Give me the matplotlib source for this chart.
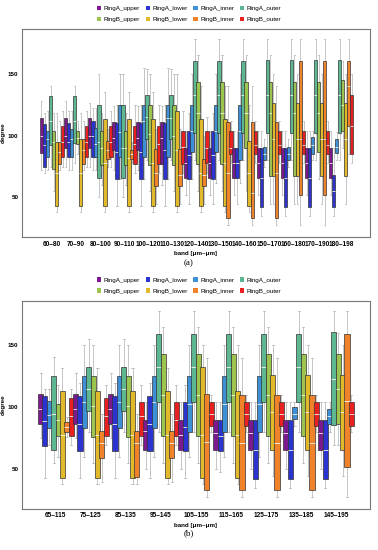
import numpy as np
import matplotlib
matplotlib.use("Agg")
import matplotlib.pyplot as plt
from matplotlib.patches import Patch

SERIES = ["RingA_upper", "RingA_lower", "RingA_inner", "RingA_outer",
          "RingB_upper", "RingB_lower", "RingB_inner", "RingB_outer"]
COLORS = ["#7a1a8e", "#2b34d0", "#3d8fd6", "#5db891",
          "#9ec450", "#e2b92a", "#f0822a", "#e82020"]

BANDS_A = ["60–80", "70–90", "80–100", "90–110", "100–120", "110–130",
           "120–140", "130–150", "140–160", "150–170", "160–180",
           "170–190", "180–198"]
BANDS_B = ["65–115", "75–125", "85–135", "95–145", "105–155", "115–165",
           "125–175", "135–185", "145–195"]

# (whisker low, q1, median, q3, whisker high) for each band
A_RINGA_UPPER = [(72, 86, 100, 114, 128), (75, 90, 100, 114, 128), (75, 90, 100, 114, 126),
                 (72, 88, 98, 111, 124), (72, 88, 98, 111, 124), (60, 77, 98, 111, 124),
                 (52, 66, 78, 90, 104), (52, 66, 78, 90, 104), (52, 66, 78, 90, 104),
                 (52, 66, 78, 90, 104), (52, 66, 78, 90, 104), (52, 66, 78, 90, 104),
                 (52, 66, 78, 90, 104)]
A_RINGA_LOWER = [(70, 75, 92, 109, 118), (72, 83, 95, 110, 120), (72, 83, 100, 112, 122),
                 (43, 65, 87, 110, 125), (43, 65, 87, 110, 125), (43, 65, 88, 110, 125),
                 (45, 65, 84, 104, 118), (45, 65, 84, 104, 118), (45, 66, 78, 90, 104),
                 (35, 42, 66, 90, 104), (35, 42, 66, 90, 104), (35, 42, 66, 90, 104),
                 (35, 42, 55, 68, 90)]
A_RINGA_INNER = [(72, 83, 97, 104, 120), (72, 83, 97, 105, 120), (72, 83, 93, 106, 122),
                 (65, 83, 103, 125, 150), (65, 83, 112, 125, 155), (65, 83, 114, 125, 155),
                 (65, 87, 104, 125, 150), (62, 87, 104, 125, 150), (62, 80, 104, 125, 150),
                 (75, 80, 85, 91, 97), (75, 80, 85, 91, 97), (80, 85, 92, 99, 104),
                 (80, 86, 91, 97, 103)]
A_RINGA_OUTER = [(75, 92, 112, 132, 140), (78, 94, 112, 132, 140), (50, 66, 95, 125, 150),
                 (50, 66, 90, 125, 150), (80, 97, 115, 133, 154), (80, 97, 114, 133, 154),
                 (80, 102, 133, 160, 178), (80, 102, 133, 160, 178), (80, 102, 133, 160, 178),
                 (80, 102, 133, 161, 178), (80, 102, 133, 161, 178), (80, 102, 133, 161, 178),
                 (80, 102, 133, 161, 178)]
A_RINGB_UPPER = [(55, 73, 95, 104, 118), (85, 93, 98, 104, 112), (60, 76, 90, 104, 118),
                 (60, 76, 90, 104, 118), (55, 76, 101, 125, 150), (55, 76, 100, 125, 150),
                 (55, 77, 118, 143, 165), (55, 77, 118, 143, 165), (55, 90, 118, 143, 165),
                 (45, 67, 118, 143, 165), (45, 67, 118, 143, 165), (65, 87, 118, 143, 165),
                 (90, 104, 125, 145, 160)]
A_RINGB_LOWER = [(38, 43, 70, 95, 118), (38, 43, 70, 97, 118), (38, 43, 78, 113, 135),
                 (38, 43, 82, 113, 135), (38, 43, 78, 113, 135), (38, 43, 88, 120, 150),
                 (38, 43, 70, 113, 140), (38, 43, 78, 113, 140), (38, 43, 70, 96, 125),
                 (45, 67, 97, 126, 150), (45, 67, 97, 126, 150), (45, 67, 97, 126, 150),
                 (45, 67, 97, 126, 150)]
A_RINGB_INNER = [(72, 77, 87, 95, 112), (72, 77, 88, 97, 112), (75, 81, 88, 96, 105),
                 (78, 81, 85, 88, 95), (45, 59, 70, 89, 105), (45, 59, 68, 89, 105),
                 (45, 59, 68, 81, 100), (28, 33, 70, 111, 140), (28, 33, 54, 111, 140),
                 (28, 33, 70, 111, 140), (28, 52, 97, 160, 178), (28, 52, 97, 160, 178),
                 (85, 108, 140, 160, 178)]
A_RINGB_OUTER = [(75, 83, 95, 108, 120), (75, 83, 95, 108, 120), (75, 83, 95, 108, 120),
                 (70, 77, 93, 108, 125), (70, 77, 93, 108, 125), (70, 77, 91, 104, 120),
                 (70, 78, 90, 104, 115), (78, 85, 90, 104, 112), (78, 85, 92, 104, 112),
                 (78, 85, 92, 104, 112), (78, 85, 92, 104, 112), (78, 85, 92, 104, 112),
                 (78, 85, 108, 133, 150)]

B_RINGA_UPPER = [(75, 87, 99, 111, 128), (75, 87, 99, 111, 128), (75, 87, 99, 111, 128),
                 (50, 66, 81, 90, 104), (50, 66, 78, 90, 104), (50, 66, 79, 90, 104),
                 (50, 66, 79, 90, 104), (50, 66, 79, 90, 104), (50, 66, 79, 90, 104)]
B_RINGA_LOWER = [(43, 69, 89, 109, 115), (43, 65, 87, 109, 120), (43, 65, 87, 109, 120),
                 (43, 65, 87, 109, 120), (43, 65, 84, 104, 118), (48, 65, 77, 90, 104),
                 (35, 42, 66, 90, 104), (35, 42, 66, 90, 104), (35, 42, 66, 90, 104)]
B_RINGA_INNER = [(70, 83, 94, 105, 115), (60, 83, 104, 125, 150), (60, 83, 104, 125, 150),
                 (60, 83, 104, 125, 150), (60, 80, 103, 125, 150), (60, 80, 103, 125, 150),
                 (60, 80, 103, 125, 150), (85, 91, 95, 100, 104), (80, 87, 93, 99, 104)]
B_RINGA_OUTER = [(55, 66, 95, 125, 141), (80, 97, 115, 133, 155), (80, 97, 115, 133, 155),
                 (80, 104, 133, 159, 178), (80, 104, 133, 159, 178), (80, 104, 133, 159, 178),
                 (80, 104, 133, 159, 178), (80, 104, 133, 159, 178), (70, 86, 123, 161, 178)]
B_RINGB_UPPER = [(60, 77, 90, 103, 118), (55, 76, 101, 125, 150), (55, 76, 101, 125, 150),
                 (55, 77, 110, 143, 165), (55, 77, 110, 143, 165), (55, 77, 110, 143, 165),
                 (55, 77, 110, 143, 165), (55, 77, 110, 143, 165), (70, 87, 115, 143, 160)]
B_RINGB_LOWER = [(38, 43, 78, 113, 132), (38, 43, 78, 113, 132), (38, 43, 78, 113, 132),
                 (38, 43, 78, 113, 132), (38, 43, 78, 133, 150), (38, 43, 78, 113, 150),
                 (45, 66, 96, 126, 150), (45, 66, 96, 126, 150), (45, 66, 96, 126, 150)]
B_RINGB_INNER = [(76, 80, 84, 88, 92), (40, 59, 71, 81, 95), (38, 44, 71, 81, 95),
                 (40, 59, 71, 81, 95), (28, 33, 72, 111, 140), (28, 33, 71, 110, 140),
                 (28, 33, 71, 110, 140), (28, 33, 71, 110, 140), (28, 52, 105, 159, 178)]
B_RINGB_OUTER = [(70, 77, 93, 108, 115), (70, 77, 93, 108, 118), (70, 77, 93, 104, 118),
                 (70, 77, 90, 104, 118), (80, 85, 95, 104, 110), (80, 85, 95, 104, 110),
                 (80, 85, 95, 104, 110), (80, 85, 95, 104, 110), (80, 85, 95, 104, 110)]

PANEL_A = [A_RINGA_UPPER, A_RINGA_LOWER, A_RINGA_INNER, A_RINGA_OUTER,
           A_RINGB_UPPER, A_RINGB_LOWER, A_RINGB_INNER, A_RINGB_OUTER]
PANEL_B = [B_RINGA_UPPER, B_RINGA_LOWER, B_RINGA_INNER, B_RINGA_OUTER,
           B_RINGB_UPPER, B_RINGB_LOWER, B_RINGB_INNER, B_RINGB_OUTER]

FONT = "Liberation Sans"
STEP = 0.125


def draw_panel(ax, bands, panel, width, xlim):
    n = len(bands)
    for k, (series, color) in enumerate(zip(panel, COLORS)):
        stats = [dict(whislo=s[0], q1=s[1], med=s[2], q3=s[3], whishi=s[4], fliers=[])
                 for s in series]
        pos = np.arange(n) + (k - 3.5) * STEP
        art = ax.bxp(stats, positions=pos, widths=width, patch_artist=True,
                     showfliers=False, manage_ticks=False,
                     boxprops=dict(facecolor=color, edgecolor="#333333", linewidth=0.5),
                     medianprops=dict(color="#f4f4f4", linewidth=0.6),
                     whiskerprops=dict(color="#bdbdbd", linewidth=0.6),
                     capprops=dict(color="#bdbdbd", linewidth=0.6),
                     capwidths=width * 0.4)
        for g, box in enumerate(art["boxes"]):
            z = 2 + (g * 8 + k) * 0.01
            box.set_zorder(z)
            art["medians"][g].set_zorder(z + 0.005)
        for ln in art["whiskers"] + art["caps"]:
            ln.set_zorder(1)

    ax.set_xlim(*xlim)
    ax.set_ylim(18, 186)
    ax.set_xticks(np.arange(n))
    ax.set_xticklabels(bands, fontsize=4.7, fontweight="bold", family=FONT)
    ax.set_yticks([50, 100, 150])
    ax.set_yticklabels(["50", "100", "150"], fontsize=4.5, fontweight="bold", family=FONT)
    ax.tick_params(length=0, pad=2.5)
    ax.set_xlabel("band [μm–μm]", fontsize=4.5, fontweight="bold", family=FONT, labelpad=2.5)
    ax.set_ylabel("degree", fontsize=4.5, fontweight="bold", family=FONT, labelpad=1.5)
    for sp in ax.spines.values():
        sp.set_color("#777777")
        sp.set_linewidth(0.8)


def legend(fig, y):
    order = [0, 4, 1, 5, 2, 6, 3, 7]
    handles = [Patch(facecolor=COLORS[i], edgecolor="none") for i in order]
    labels = [SERIES[i] for i in order]
    fig.legend(handles, labels, ncol=4, loc="center", bbox_to_anchor=(0.5, y),
               frameon=False, prop=dict(family=FONT, size=4.5),
               handlelength=0.7, handleheight=0.7, handletextpad=0.4,
               columnspacing=0.9, labelspacing=0.9, borderpad=0)


fig = plt.figure(figsize=(3.78, 5.5), dpi=100)
ax_a = fig.add_axes([0.058, 0.569, 0.921, 0.378])
ax_b = fig.add_axes([0.058, 0.0745, 0.921, 0.3785])

draw_panel(ax_a, BANDS_A, PANEL_A, 0.15, (-1.25, 13.2))
draw_panel(ax_b, BANDS_B, PANEL_B, 0.145, (-0.97, 8.97))

legend(fig, 0.975)
legend(fig, 0.481)

fig.text(0.5, 1 - 263 / 550, "(a)", ha="center", va="center", fontsize=6.5, family="Liberation Serif")
fig.text(0.5, 1 - 533 / 550, "(b)", ha="center", va="center", fontsize=6.5, family="Liberation Serif")

fig.savefig("out.png", dpi=100)
